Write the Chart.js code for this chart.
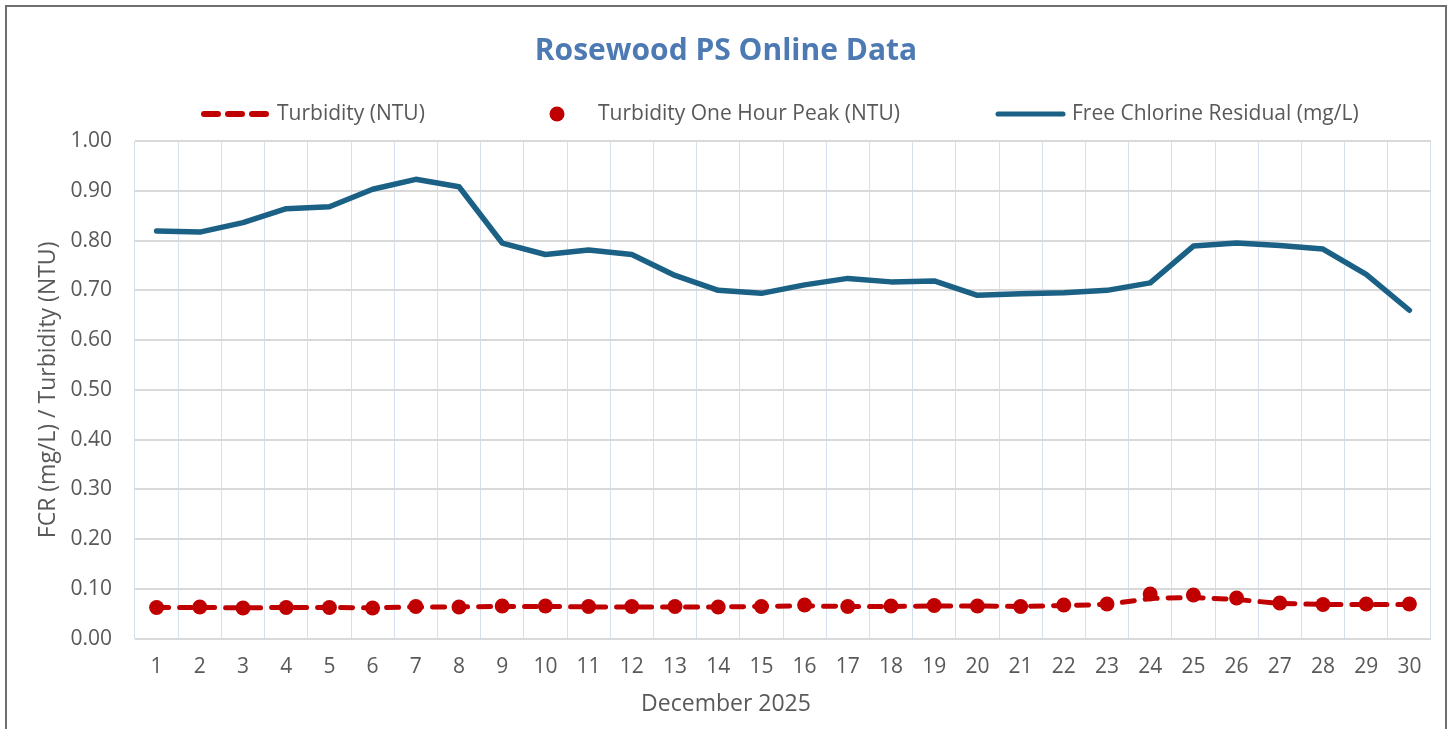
<!DOCTYPE html>
<html>
<head>
<meta charset="utf-8">
<title>Rosewood PS Online Data</title>
<script src="https://cdn.jsdelivr.net/npm/chart.js@4.4.1/dist/chart.umd.min.js"></script>
<style>
  html, body { margin: 0; padding: 0; background: #fff; overflow: hidden; }
  .frame {
    position: absolute;
    left: 5px;
    top: 5px;
    width: 1438px;
    height: 730px;
    border: 2px solid #6f6f6f;
    background: #fff;
  }
  canvas { display: block; }
</style>
</head>
<body>
<div class="frame">
  <canvas id="rosewood" width="1438" height="722"></canvas>
</div>
<script>
// days of December 2025
const days = ["1","2","3","4","5","6","7","8","9","10","11","12","13","14","15",
  "16","17","18","19","20","21","22","23","24","25","26","27","28","29","30"];

// Turbidity (NTU), daily
const turbidity = [0.063, 0.063, 0.062, 0.063, 0.063, 0.062, 0.064, 0.064, 0.065, 0.065,
  0.064, 0.064, 0.064, 0.064, 0.065, 0.066, 0.065, 0.065, 0.066, 0.066,
  0.065, 0.067, 0.069, 0.081, 0.083, 0.079, 0.071, 0.069, 0.069, 0.069];

// Turbidity one hour peak (NTU)
const turbidityPeak = [0.063, 0.064, 0.062, 0.063, 0.063, 0.062, 0.065, 0.064, 0.066, 0.066,
  0.065, 0.065, 0.065, 0.064, 0.065, 0.068, 0.065, 0.066, 0.067, 0.066,
  0.065, 0.068, 0.070, 0.090, 0.088, 0.082, 0.072, 0.069, 0.070, 0.070];

// Free chlorine residual (mg/L)
const chlorine = [0.819, 0.817, 0.836, 0.864, 0.868, 0.903, 0.923, 0.908, 0.795, 0.772,
  0.781, 0.772, 0.730, 0.700, 0.694, 0.711, 0.724, 0.717, 0.719, 0.690,
  0.693, 0.695, 0.700, 0.715, 0.789, 0.795, 0.790, 0.783, 0.732, 0.660];

const yTicks = [0, 0.1, 0.2, 0.3, 0.4, 0.5, 0.6, 0.7, 0.8, 0.9, 1.0];

const FONT = "'Open Sans', 'Noto Sans', sans-serif";
const TEXT = "#595959";
const RED = "#c00000";
const BLUE = "#1b6186";

// title, legend row and x axis caption, placed like the Excel original
const decorPlugin = {
  id: "decor",
  afterDraw(chart) {
    const ctx = chart.ctx;
    const ds = chart.data.datasets;
    const midX = chart.width / 2;
    ctx.save();

    ctx.fillStyle = "#4e7ab4";
    ctx.font = "bold 30px " + FONT;
    ctx.textAlign = "center";
    ctx.textBaseline = "middle";
    ctx.fillText("Rosewood PS Online Data", midX, 44);

    const legendY = 107;
    ctx.font = "21px " + FONT;
    ctx.textAlign = "left";
    ctx.fillStyle = TEXT;

    // dashed line
    ctx.strokeStyle = ds[0].borderColor;
    ctx.lineWidth = 6;
    ctx.lineCap = "round";
    ctx.setLineDash([14, 10]);
    ctx.beginPath();
    ctx.moveTo(197, legendY);
    ctx.lineTo(259, legendY);
    ctx.stroke();
    ctx.setLineDash([]);
    ctx.fillText(ds[0].label, 270, legendY);

    // peak dot
    ctx.fillStyle = ds[1].backgroundColor;
    ctx.beginPath();
    ctx.arc(550, legendY, 7.5, 0, Math.PI * 2);
    ctx.fill();
    ctx.fillStyle = TEXT;
    ctx.fillText(ds[1].label, 591, legendY);

    // solid line
    ctx.strokeStyle = ds[2].borderColor;
    ctx.lineWidth = 5;
    ctx.beginPath();
    ctx.moveTo(991, legendY);
    ctx.lineTo(1056, legendY);
    ctx.stroke();
    ctx.fillText(ds[2].label, 1065, legendY);

    ctx.font = "23px " + FONT;
    ctx.textAlign = "center";
    ctx.fillText("December 2025", 719, 697);
    ctx.restore();
  }
};

new Chart(document.getElementById("rosewood"), {
  type: "line",
  data: {
    labels: days,
    datasets: [
      {
        label: "Turbidity (NTU)",
        data: turbidity,
        borderColor: RED,
        borderWidth: 5,
        borderDash: [12, 11],
        borderCapStyle: "round",
        pointRadius: 0,
        tension: 0,
        order: 2
      },
      {
        label: "Turbidity One Hour Peak (NTU)",
        data: turbidityPeak,
        showLine: false,
        backgroundColor: RED,
        borderColor: RED,
        pointRadius: 7.5,
        pointBorderWidth: 0,
        order: 1
      },
      {
        label: "Free Chlorine Residual (mg/L)",
        data: chlorine,
        borderColor: BLUE,
        borderWidth: 5.5,
        borderCapStyle: "round",
        borderJoinStyle: "round",
        pointRadius: 0,
        tension: 0,
        order: 0
      }
    ]
  },
  options: {
    responsive: false,
    animation: false,
    layout: { padding: { top: 134, right: 14, bottom: 33, left: 0 } },
    plugins: {
      legend: { display: false },
      title: { display: false },
      tooltip: { enabled: false }
    },
    scales: {
      x: {
        offset: true,
        grid: { offset: true, color: "#d5e0ef", lineWidth: 1, drawTicks: false },
        border: { display: false },
        ticks: { color: TEXT, font: { family: FONT, size: 21 }, padding: 16, maxRotation: 0 }
      },
      y: {
        min: 0,
        max: 1,
        afterBuildTicks: axis => { axis.ticks = yTicks.map(v => ({ value: v })); },
        afterFit: axis => { axis.width = 128; },
        grid: { color: "#d9d9d9", lineWidth: 2, drawTicks: false },
        border: { display: false },
        ticks: {
          color: TEXT,
          font: { family: FONT, size: 21 },
          padding: 23,
          callback: v => Number(v).toFixed(2)
        },
        title: {
          display: true,
          text: "FCR (mg/L) / Turbidity (NTU)",
          color: TEXT,
          font: { family: FONT, size: 23 },
          padding: { top: 28, bottom: 0 }
        }
      }
    }
  },
  plugins: [decorPlugin]
});
</script>
</body>
</html>
